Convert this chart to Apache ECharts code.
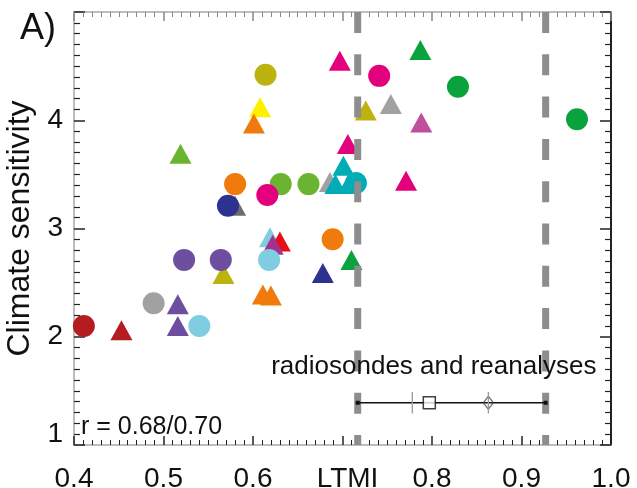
<!DOCTYPE html>
<html>
<head>
<meta charset="utf-8">
<script src="https://cdn.jsdelivr.net/npm/echarts@6/dist/echarts.min.js"></script>
<style>
html,body{margin:0;padding:0;background:#fff;}
#chart{width:637px;height:488px;}
</style>
</head>
<body>
<div id="chart"></div>
<script>
// ---- tick labels ----
var xTickValues = [0.4, 0.5, 0.6, 0.7, 0.8, 0.9, 1.0];
var xTickLabels = ['0.4', '0.5', '0.6', 'LTMI', '0.8', '0.9', '1.0'];
var yTickValues = [1, 2, 3, 4, 5];
var yTickLabels = ['1', '2', '3', '4', ''];

// ---- model points (LTMI, climate sensitivity) ----
// triangles
var darkRedTri   = [[0.453, 2.06]];
var purpleTri    = [[0.516, 2.30], [0.516, 2.10]];
var limeTri      = [[0.519, 3.69]];
var oliveTri     = [[0.567, 2.58], [0.726, 4.09]];
var yellowTri    = [[0.608, 4.12]];
var orangeTri    = [[0.601, 3.97], [0.611, 2.39], [0.620, 2.38]];
var darkGrayTri  = [[0.580, 3.21]];
var lightBlueTri = [[0.619, 2.92]];
var redTri       = [[0.630, 2.88]];
var violetTri    = [[0.622, 2.85]];
var navyTri      = [[0.678, 2.59]];
var greenTri     = [[0.710, 2.71], [0.787, 4.65]];
var magentaTri   = [[0.697, 4.55], [0.706, 3.78], [0.771, 3.44]];
var grayTri      = [[0.686, 3.43], [0.754, 4.15]];
var tealTri      = [[0.701, 3.58], [0.692, 3.41], [0.707, 3.41]];
var pinkTri      = [[0.788, 3.98]];
// circles
var darkRedCircle   = [[0.411, 2.10]];
var grayCircle      = [[0.489, 2.31]];
var purpleCircle    = [[0.523, 2.71], [0.564, 2.71]];
var lightBlueCircle = [[0.540, 2.10], [0.618, 2.71]];
var oliveCircle     = [[0.614, 4.42]];
var orangeCircle    = [[0.580, 3.41], [0.689, 2.90]];
var limeCircle      = [[0.631, 3.41], [0.662, 3.41]];
var magentaCircle   = [[0.616, 3.31], [0.741, 4.41]];
var navyCircle      = [[0.572, 3.21]];
var tealCircle      = [[0.715, 3.42]];
var greenCircle     = [[0.829, 4.31], [0.962, 4.01]];

// ---- observations ----
var obsRangeX = [0.717, 0.927];   // dashed bounds & error bar
var obsY = 1.39;
var obsSquareX = 0.797;
var obsDiamondX = 0.863;
var obsTickX = [0.778, 0.863];
var obsTickHalf = 0.10;
var obsLabelPos = [0.802, 1.72];
var yMin = 1, yMax = 5;

var C = {
  darkRed: '#b41c21', gray: '#a2a1a1', purple: '#6e4e9e', lightBlue: '#7ecde0',
  olive: '#bcb30f', yellow: '#fff000', orange: '#f07a0c', lime: '#6bb431',
  magenta: '#e4007c', navy: '#2d3290', teal: '#00acb5', green: '#0aa23c',
  red: '#e3101a', violet: '#a5318e', pink: '#bf4f9c', darkGray: '#6d6d6d'
};

var FONT = '"Liberation Sans", Arial, Helvetica, sans-serif';

function tri(data, color) {
  return { type: 'scatter', data: data, symbol: 'triangle', symbolSize: [22, 20],
           itemStyle: { color: color, opacity: 1 }, z: 2, silent: true };
}
function circ(data, color) {
  return { type: 'scatter', data: data, symbol: 'circle', symbolSize: 22,
           itemStyle: { color: color, opacity: 1 }, z: 2, silent: true };
}

var series = [
  tri(darkRedTri, C.darkRed), tri(purpleTri, C.purple), tri(limeTri, C.lime),
  tri(oliveTri, C.olive), tri(yellowTri, C.yellow), tri(orangeTri, C.orange),
  tri(darkGrayTri, C.darkGray), tri(lightBlueTri, C.lightBlue), tri(redTri, C.red),
  tri(violetTri, C.violet), tri(navyTri, C.navy), tri(greenTri, C.green),
  tri(magentaTri, C.magenta), tri(grayTri, C.gray), tri(tealTri, C.teal), tri(pinkTri, C.pink),
  circ(darkRedCircle, C.darkRed), circ(grayCircle, C.gray), circ(purpleCircle, C.purple),
  circ(lightBlueCircle, C.lightBlue), circ(oliveCircle, C.olive), circ(orangeCircle, C.orange),
  circ(limeCircle, C.lime), circ(magentaCircle, C.magenta), circ(navyCircle, C.navy),
  circ(tealCircle, C.teal), circ(greenCircle, C.green)
];

// dashed bounds
obsRangeX.forEach(function (x) {
  series.push({ type: 'line', data: [[x, yMax], [x, yMin]], showSymbol: false, symbol: 'none',
    lineStyle: { color: '#8d8d8d', width: 7, type: [21, 21.3], cap: 'butt' }, z: 5, silent: true });
});
// error bar
series.push({ type: 'line', data: [[obsRangeX[0], obsY], [obsRangeX[1], obsY]],
  symbol: 'rect', symbolSize: 4, showSymbol: true, itemStyle: { color: '#111' },
  lineStyle: { color: '#111', width: 1.5 }, z: 6, silent: true });
obsTickX.forEach(function (x) {
  series.push({ type: 'line', data: [[x, obsY - obsTickHalf], [x, obsY + obsTickHalf]], symbol: 'none',
    lineStyle: { color: '#9a9a9a', width: 1.3 }, z: 8, silent: true });
});
series.push({ type: 'scatter', data: [[obsSquareX, obsY]], symbol: 'rect', symbolSize: 12,
  itemStyle: { color: '#fff', borderColor: '#111', borderWidth: 1.5 }, z: 7, silent: true });
series.push({ type: 'scatter', data: [[obsDiamondX, obsY]], symbol: 'diamond', symbolSize: [10, 13],
  itemStyle: { color: 'rgba(255,255,255,0)', borderColor: '#444', borderWidth: 1.2 }, z: 7, silent: true });

function xLabel(v) {
  for (var i = 0; i < xTickValues.length; i++) if (Math.abs(v - xTickValues[i]) < 1e-6) {
    var t = xTickLabels[i];
    return t === 'LTMI' ? '{shift|' + t + '}' : t;
  }
  return '';
}
function yLabel(v) {
  for (var i = 0; i < yTickValues.length; i++) if (Math.abs(v - yTickValues[i]) < 1e-6) {
    var t = yTickLabels[i];
    return (i === 0 && t) ? '{raise|' + t + '}' : t;
  }
  return '';
}

function xAx(pos, showLabel, lineColor, tickColor) {
  return {
    type: 'value', position: pos, min: 0.4, max: 1.0, interval: 0.1,
    axisLine: { show: true, onZero: false, lineStyle: { color: lineColor, width: 2 } },
    axisTick: { show: true, inside: true, length: 9, lineStyle: { color: tickColor, width: 1.5 } },
    minorTick: { show: true, splitNumber: 10, length: 5, lineStyle: { color: tickColor, width: 1 } },
    splitLine: { show: false }, minorSplitLine: { show: false },
    axisLabel: { show: showLabel, fontSize: 28, color: '#111', margin: 20, fontFamily: FONT, formatter: xLabel,
      rich: { shift: { fontSize: 28, color: '#111', fontFamily: FONT, padding: [0, 0, 0, 10] } } }
  };
}
function yAx(pos, showLabel, lineColor, tickColor) {
  var a = {
    type: 'value', position: pos, min: 1, max: 5, interval: 1,
    axisLine: { show: true, onZero: false, lineStyle: { color: lineColor, width: 2 } },
    axisTick: { show: true, inside: true, length: 11, lineStyle: { color: tickColor, width: 1.5 } },
    minorTick: { show: true, splitNumber: 10, length: 6, lineStyle: { color: tickColor, width: 1.2 } },
    splitLine: { show: false }, minorSplitLine: { show: false },
    axisLabel: { show: showLabel, fontSize: 28, color: '#111', margin: 11, fontFamily: FONT, formatter: yLabel,
      rich: { raise: { fontSize: 28, color: '#111', fontFamily: FONT, padding: [0, 0, 22, 0] } } }
  };
  if (showLabel) {
    a.name = 'Climate sensitivity';
    a.nameLocation = 'middle';
    a.nameGap = 38;
    a.nameTextStyle = { fontSize: 32, color: '#111', fontFamily: FONT };
  }
  return a;
}

var chart = echarts.init(document.getElementById('chart'), null, { renderer: 'canvas' });
chart.setOption({
  animation: false,
  backgroundColor: '#fff',
  grid: { left: 74, right: 26, top: 12, bottom: 43, containLabel: false, outerBoundsMode: 'none' },
  xAxis: [xAx('bottom', true, '#bdbdbd', '#222'), xAx('top', false, '#bdbdbd', '#888')],
  yAxis: [yAx('left', true, '#bdbdbd', '#222'), yAx('right', false, '#222', '#222')],
  series: series
});

// text annotations; the caption is placed through the chart's own data scale
var capPx = chart.convertToPixel({ xAxisIndex: 0, yAxisIndex: 0 }, obsLabelPos);
chart.setOption({
  graphic: [
    { type: 'text', x: 20, y: 29, style: { text: 'A)', fontSize: 36, fill: '#111', fontFamily: FONT, verticalAlign: 'middle' } },
    { type: 'text', x: 81, y: 427, style: { text: 'r = 0.68/0.70', fontSize: 25, fill: '#111', fontFamily: FONT, verticalAlign: 'middle' } },
    { type: 'text', x: capPx[0], y: capPx[1], z: 10, style: { text: 'radiosondes and reanalyses', fontSize: 26, fill: '#111', fontFamily: FONT, align: 'center', verticalAlign: 'middle' } }
  ]
});
</script>
</body>
</html>
